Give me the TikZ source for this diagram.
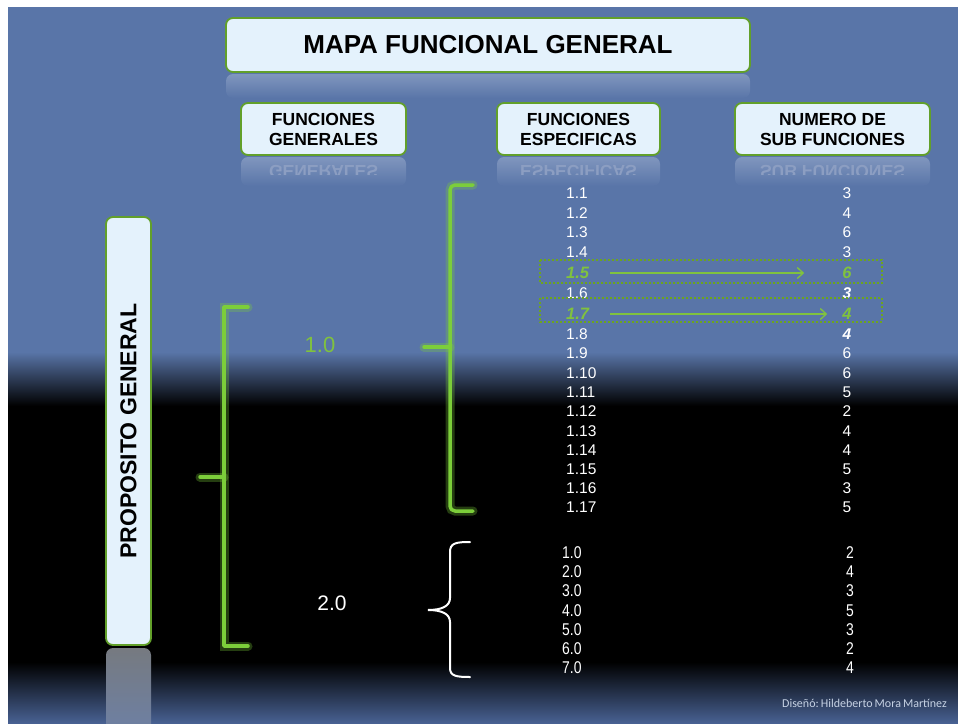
\documentclass[tikz,border=0pt]{standalone}
\usepackage{fontspec}
\usepackage{graphicx}
\setmainfont{Liberation Sans}
\newfontfamily\creditfont{Carlito}
\usetikzlibrary{arrows.meta}

\definecolor{bgblue}{RGB}{89,117,168}
\definecolor{bgdeep}{RGB}{72,97,146}
\definecolor{boxfill}{RGB}{228,242,252}
\definecolor{boxedge}{RGB}{98,160,42}
\definecolor{glowgreen}{RGB}{124,206,58}
\definecolor{txtgreen}{RGB}{128,194,62}
\definecolor{dotgreen}{RGB}{108,165,30}
\definecolor{creditgray}{RGB}{198,210,228}
\definecolor{reflhi}{RGB}{128,150,190}
\definecolor{refltxt}{RGB}{140,158,194}
\definecolor{proprefl}{RGB}{118,122,128}

\begin{document}
\begin{tikzpicture}[x=1pt,y=-1pt,
  panel/.style={draw=boxedge, fill=boxfill, line width=1.8pt, rounded corners=7pt,
                inner sep=0pt, align=center, text=black},
  headfont/.style={font=\bfseries\fontsize{17.5}{20}\selectfont},
  item/.style={text=white, inner sep=0pt, font=\fontsize{15.5}{15.5}\selectfont},
  itemb/.style={text=white, inner sep=0pt, font=\fontsize{17}{17}\selectfont},
  hot/.style={text=txtgreen, inner sep=0pt, font=\bfseries\itshape\fontsize{16.5}{16.5}\selectfont},
  hotw/.style={text=white, inner sep=0pt, font=\bfseries\itshape\fontsize{15.5}{15.5}\selectfont},
  glow/.style={draw=glowgreen, line width=3.5pt, line cap=round, line join=round,
               preaction={draw=glowgreen, draw opacity=0.3, line width=9pt, line cap=round}},
  dotbox/.style={draw=dotgreen, line width=2pt, dash pattern=on 2pt off 2pt},
  arr/.style={draw=txtgreen, line width=1.3pt, -{Straight Barb[length=6pt,width=11pt]}}
]
\useasboundingbox (0,0) rectangle (958,723);

% backdrop: blue, fading into black, then back to blue at the foot
\fill[white] (0,0) rectangle (958,723);
\fill[bgblue] (8,7) rectangle (958,352);
\shade[top color=bgblue, bottom color=black] (8,352) rectangle (958,406);
\fill[black] (8,406) rectangle (958,662);
\shade[top color=black, bottom color=bgdeep] (8,662) rectangle (958,723);

% reflections under the panels
\shade[top color=reflhi, bottom color=bgblue, rounded corners=7pt] (226,74) rectangle (750,98);
\foreach \xa/\xb/\xc/\word in {241/406/323.5/GENERALES, 497/660/578.5/ESPECIFICAS, 735/930/832.5/SUB FUNCIONES}{
  \shade[top color=reflhi, bottom color=bgblue, rounded corners=7pt] (\xa,157) rectangle (\xb,186);
  \begin{scope}
    \clip (\xa,160) rectangle (\xb,174);
    \node[text=refltxt, inner sep=0pt, font=\bfseries\fontsize{17.5}{20}\selectfont]
      at (\xc,171.5) {\scalebox{1}[-1]{\word}};
  \end{scope}
}
\shade[top color=proprefl, bottom color=bgdeep!80!white, rounded corners=7pt] (106,648) rectangle (151,740);

% panels
\node[panel, minimum width=524pt, minimum height=54pt,
      font=\bfseries\fontsize{26}{26}\selectfont] (title) at (488,45) {MAPA FUNCIONAL GENERAL};
\node[panel, headfont, minimum width=165pt, minimum height=52pt] (hgen) at (323.5,129) {FUNCIONES\\GENERALES};
\node[panel, headfont, minimum width=163pt, minimum height=52pt] (hesp) at (578.5,129) {FUNCIONES\\ESPECIFICAS};
\node[panel, headfont, minimum width=195pt, minimum height=52pt] (hnum) at (832.5,129) {NUMERO DE\\SUB FUNCIONES};
\node[panel, rotate=90, minimum width=428pt, minimum height=45pt,
      font=\bfseries\fontsize{23}{23}\selectfont] (prop) at (128.5,431) {PROPOSITO GENERAL};

% general functions
\node[text=txtgreen, inner sep=0pt, font=\fontsize{22}{22}\selectfont] (g10) at (320,345) {1.0};
\node[text=white, inner sep=0pt, font=\fontsize{21}{21}\selectfont] (g20) at (332,603) {2.0};

% green brackets
\draw[glow] (248,307) -- (224,307) -- (224,646) -- (248,646);
\draw[glow] (224,477) -- (200,477);
\draw[glow, rounded corners=5pt] (473,185) -- (450,185) -- (450,511) -- (473,511);
\draw[glow] (450,347) -- (424,347);

% white brace for the second group
\draw[white, line width=2pt, line cap=round]
  (470,542) .. controls (456,542) and (450,543) .. (450,552) -- (450,598)
  .. controls (450,606) and (442,610) .. (428,610)
  .. controls (442,610) and (450,614) .. (450,622) -- (450,668)
  .. controls (450,676) and (456,677) .. (470,677);

% specific functions of 1.0
\foreach \i/\lab/\yy in {1/1.1/193, 2/1.2/213, 3/1.3/232, 4/1.4/252, 6/1.6/293, 8/1.8/334,
    9/1.9/353, 10/1.10/373, 11/1.11/392, 12/1.12/411, 13/1.13/431, 14/1.14/450,
    15/1.15/469, 16/1.16/488, 17/1.17/507}
  \node[item, anchor=west] (r\i) at (566,\yy) {\lab};
\foreach \i/\num/\yy in {1/3/193, 2/4/213, 3/6/232, 4/3/252, 9/6/353, 10/6/373,
    11/5/392, 12/2/411, 13/4/431, 14/4/450, 15/5/469, 16/3/488, 17/5/507}
  \node[item] (n\i) at (847,\yy) {\num};
\node[hot, anchor=west] (r5) at (566,273) {1.5};
\node[hot] (n5) at (847,273) {6};
\node[hotw] (n6) at (847,293) {3};
\node[hot, anchor=west] (r7) at (566,314) {1.7};
\node[hot] (n7) at (847,314) {4};
\node[hotw] (n8) at (847,334) {4};

% highlighted rows
\draw[dotbox] (540,260) rectangle (882,283);
\draw[dotbox] (540,298) rectangle (882,322);
\draw[arr, shorten <=21pt, shorten >=38pt] (r5) -- (n5);
\draw[arr, shorten <=21pt, shorten >=15pt] (r7) -- (n7);

% specific functions of 2.0
\foreach \i/\lab/\num/\yy in {1/1.0/2/553, 2/2.0/4/572, 3/3.0/3/591, 4/4.0/5/611,
    5/5.0/3/630, 6/6.0/2/649, 7/7.0/4/668}{
  \node[itemb, anchor=west] (s\i) at (562,\yy) {\scalebox{0.82}[1]{\lab}};
  \node[itemb] (m\i) at (850,\yy) {\scalebox{0.82}[1]{\num}};
}

% credit line
\node[anchor=east, inner sep=0pt, text=creditgray, font=\creditfont\fontsize{12}{12}\selectfont]
  (credit) at (947,703) {Diseñó:\,Hildeberto\,Mora\,Martínez};
\end{tikzpicture}
\end{document}
